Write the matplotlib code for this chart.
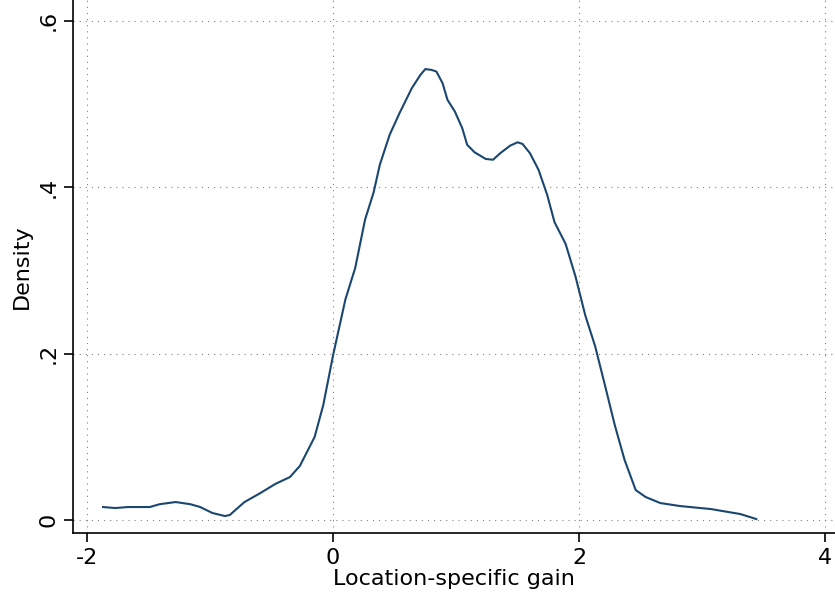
import matplotlib
matplotlib.use('Agg')
import matplotlib.pyplot as plt

# kernel density estimate
gain = [-1.87, -1.77, -1.67, -1.49, -1.41, -1.28, -1.16, -1.08, -0.98, -0.88, -0.84,
        -0.72, -0.59, -0.47, -0.35, -0.27, -0.15, -0.08, 0.0, 0.10, 0.18, 0.26, 0.33,
        0.38, 0.46, 0.54, 0.64, 0.71, 0.75, 0.80, 0.84, 0.89, 0.93, 0.99, 1.05, 1.09,
        1.15, 1.24, 1.30, 1.36, 1.44, 1.50, 1.54, 1.60, 1.67, 1.74, 1.80, 1.89, 1.97,
        2.05, 2.13, 2.21, 2.29, 2.37, 2.46, 2.54, 2.66, 2.82, 3.07, 3.31, 3.44]
density = [0.0156, 0.0144, 0.0156, 0.0156, 0.019, 0.0216, 0.019, 0.0156, 0.0084, 0.0048,
           0.006, 0.0216, 0.0325, 0.0433, 0.0517, 0.065, 0.0998, 0.138, 0.198, 0.265,
           0.303, 0.361, 0.394, 0.427, 0.463, 0.489, 0.519, 0.535, 0.542, 0.541, 0.539,
           0.525, 0.505, 0.491, 0.471, 0.451, 0.442, 0.434, 0.433, 0.441, 0.450, 0.454,
           0.452, 0.441, 0.421, 0.391, 0.358, 0.332, 0.293, 0.246, 0.209, 0.162, 0.114,
           0.072, 0.036, 0.0277, 0.0204, 0.0168, 0.0132, 0.0072, 0.0012]

xticks = [-2, 0, 2, 4]
xlabels = ['-2', '0', '2', '4']
yticks = [0, 0.2, 0.4, 0.6]
ylabels = ['0', '.2', '.4', '.6']

fig = plt.figure(figsize=(8.35, 5.95), dpi=100)
ax = fig.add_axes([73 / 835, 62 / 595, 1 - 73 / 835, 1 - 62 / 595])

ax.plot(gain, density, color='#1a476f', linewidth=1.5)

ax.set_xlim(-2.114, 4.08)
ax.set_ylim(-0.0156, 0.625)
ax.set_xticks(xticks)
ax.set_xticklabels(xlabels)
ax.set_yticks(yticks)
ax.set_yticklabels(ylabels)
plt.setp(ax.get_yticklabels(), rotation=90, va='center')

ax.grid(True, linestyle=(0, (1, 4.5)), color='#808080', linewidth=0.8)
for s in ['top', 'right']:
    ax.spines[s].set_visible(False)
ax.spines['left'].set_linewidth(1.2)
ax.spines['bottom'].set_linewidth(1.2)
ax.tick_params(axis='both', length=6.5, width=1.2, labelsize=16, pad=4)

ax.set_xlabel('Location-specific gain', fontsize=16, labelpad=1)
ax.set_ylabel('Density', fontsize=16, labelpad=5)

fig.savefig('out.png', dpi=100)
